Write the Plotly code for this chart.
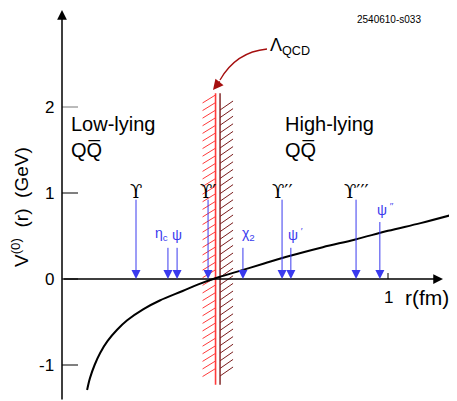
import plotly.graph_objects as go

# potential curve V(r)
r_curve = [0.077, 0.086, 0.10, 0.117, 0.14, 0.169, 0.20, 0.25, 0.30, 0.37, 0.42,
           0.48, 0.55, 0.62, 0.70, 0.80, 0.90, 1.00, 1.10, 1.19]
v_curve = [-1.29, -1.15, -1.00, -0.86, -0.72, -0.59, -0.48, -0.35, -0.25, -0.14, -0.06,
           0.02, 0.10, 0.18, 0.27, 0.37, 0.46, 0.56, 0.65, 0.74]

# quarkonium states: arrow position (fm), arrow top (GeV), label
upsilon_r = [0.227, 0.448, 0.675, 0.902]
upsilon_top = [0.94, 0.94, 0.94, 0.94]
upsilon_lbl = ["ϒ", "ϒ′", "ϒ′′", "ϒ′′′"]

charm_r = [0.325, 0.353, 0.555, 0.702, 0.975]
charm_top = [0.38, 0.38, 0.38, 0.38, 0.68]
charm_lbl = ["η<sub>c</sub>", "ψ", "χ<sub>2</sub>", "ψ<sup> ′</sup>", "ψ<sup> ′′</sup>"]
charm_anchor = ["right", "center", "left", "left", "left"]
charm_shift = [2, 0, -3, -5, -5]

y_ticks = [2, 1, 0, -1]
y_tick_lbl = ["2", "1", "0", "-1"]
x_ticks = [1]

lambda_r = 0.471          # Lambda_QCD boundary
band_top, band_bot = 2.16, -1.23

# 326 px per fm, 86 px per GeV; origin 54/271 px inside the figure (page adds 8 px margin)
PX_R, PX_V = 326.0, 86.0
W, H, OX, OY = 449, 393, 54, 271
x_range = [-OX / PX_R, (W - OX) / PX_R]
y_range = [(OY - H) / PX_V, OY / PX_V]

SANS = "Liberation Sans, Arial, sans-serif"
SERIF = "DejaVu Serif, serif"
BLUE = "#3a3aee"
DARKRED = "#a50f0f"

fig = go.Figure()

# hatched Lambda_QCD band
dark_r = lambda_r + 4.5 / PX_R
hx, hy, dx, dy = [], [], [], []
step = 7.6 / PX_V
v = 2.14
while v > -1.12:
    hx += [lambda_r - 13 / PX_R, lambda_r, None]
    hy += [v - 8 / PX_V, v, None]
    v -= step
v = 1.965
while v > -1.17:
    dx += [dark_r, dark_r + 13 / PX_R, None]
    dy += [v, v + 9 / PX_V, None]
    v -= step
fig.add_trace(go.Scatter(x=hx, y=hy, mode="lines", line=dict(color="#ff3a3a", width=1)))
fig.add_trace(go.Scatter(x=dx, y=dy, mode="lines", line=dict(color="#7a1c1c", width=1)))
fig.add_trace(go.Scatter(x=[lambda_r, lambda_r], y=[band_top, band_bot], mode="lines",
                         line=dict(color="#ff3a3a", width=1.6)))
fig.add_trace(go.Scatter(x=[dark_r, dark_r], y=[band_top, band_bot], mode="lines",
                         line=dict(color="#7a1c1c", width=1.4)))

# potential
fig.add_trace(go.Scatter(x=r_curve, y=v_curve, mode="lines", line_shape="spline",
                         line=dict(color="black", width=2)))

# ticks
for t in y_ticks:
    fig.add_trace(go.Scatter(x=[0, 16 / PX_R], y=[t, t], mode="lines",
                             line=dict(color="#777" if t == 2 else "black", width=1)))
for t in x_ticks:
    fig.add_trace(go.Scatter(x=[t, t], y=[0, 6 / PX_V], mode="lines",
                             line=dict(color="black", width=1)))

ann = []
# axes with arrow heads
ann.append(dict(x=0, y=y_range[1] - 2 / PX_V, ax=0, ay=y_range[0], axref="x", ayref="y",
                showarrow=True, arrowhead=2, arrowsize=1.3, arrowwidth=1.5, arrowcolor="black", text=""))
ann.append(dict(x=381 / PX_R, y=0, ax=0, ay=0, axref="x", ayref="y",
                showarrow=True, arrowhead=2, arrowsize=1.3, arrowwidth=1.5, arrowcolor="black", text=""))

for t, s in zip(y_ticks, y_tick_lbl):
    ann.append(dict(x=0, y=t, text=s, showarrow=False, xanchor="right", xshift=-6,
                    font=dict(family=SANS, size=17, color="black")))
ann.append(dict(x=1, y=-18 / PX_V, text="1", showarrow=False,
                font=dict(family=SANS, size=17, color="black")))
ann.append(dict(x=1.047, y=-18 / PX_V, text="r(fm)", showarrow=False, xanchor="left",
                font=dict(family=SANS, size=21, color="black")))
ann.append(dict(x=-42 / PX_R, y=72 / PX_V,
                text="V<sup>(0)</sup>\u00a0\u00a0(r)\u00a0\u00a0(GeV)", textangle=-90,
                showarrow=False, font=dict(family=SANS, size=19, color="black")))

# state arrows
for r, top, s in zip(upsilon_r, upsilon_top, upsilon_lbl):
    ann.append(dict(x=r, y=0, ax=r, ay=top, axref="x", ayref="y", showarrow=True,
                    arrowhead=2, arrowsize=1.8, arrowwidth=1, arrowcolor=BLUE, text=""))
    ann.append(dict(x=r, y=top, text=s, showarrow=False, yanchor="bottom", yshift=-6,
                    font=dict(family=SERIF, size=18, color="black")))
for r, top, s, a, sh in zip(charm_r, charm_top, charm_lbl, charm_anchor, charm_shift):
    ann.append(dict(x=r, y=0, ax=r, ay=top, axref="x", ayref="y", showarrow=True,
                    arrowhead=2, arrowsize=1.8, arrowwidth=1, arrowcolor=BLUE, text=""))
    ann.append(dict(x=r, y=top, text=s, showarrow=False, yanchor="bottom", yshift=1,
                    xanchor=a, xshift=sh, font=dict(family=SANS, size=14, color=BLUE)))

# region labels
ann.append(dict(x=7 / PX_R, y=168 / PX_V, text="Low-lying<br>QQ̅", showarrow=False,
                xanchor="left", yanchor="top", align="left",
                font=dict(family=SANS, size=20, color="black")))
ann.append(dict(x=221 / PX_R, y=168 / PX_V, text="High-lying<br>QQ̅", showarrow=False,
                xanchor="left", yanchor="top", align="left",
                font=dict(family=SANS, size=20, color="black")))

# Lambda_QCD pointer
ann.append(dict(x=206 / PX_R, y=233 / PX_V, text="Λ<sub>QCD</sub>", showarrow=False,
                xanchor="left", font=dict(family=SANS, size=18, color="black")))
ann.append(dict(x=151 / PX_R, y=189 / PX_V, ax=159 / PX_R, ay=199 / PX_V,
                axref="x", ayref="y", showarrow=True, arrowhead=2, arrowsize=1.6,
                arrowwidth=1.3, arrowcolor=DARKRED, text=""))
ann.append(dict(x=327 / PX_R, y=260 / PX_V, text="2540610-s033", showarrow=False,
                font=dict(family=SANS, size=10, color="black")))

fig.add_shape(type="path", xref="x", yref="y",
              path=f"M {205 / PX_R},{230 / PX_V} Q {174 / PX_R},{227 / PX_V} {158 / PX_R},{199 / PX_V}",
              line=dict(color=DARKRED, width=1.3))

fig.update_layout(
    width=W, height=H,
    margin=dict(l=0, r=0, t=0, b=0),
    plot_bgcolor="white", paper_bgcolor="white",
    showlegend=False,
    xaxis=dict(range=x_range, visible=False, fixedrange=True),
    yaxis=dict(range=y_range, visible=False, fixedrange=True),
    annotations=ann,
)
fig.write_html("out.html")
